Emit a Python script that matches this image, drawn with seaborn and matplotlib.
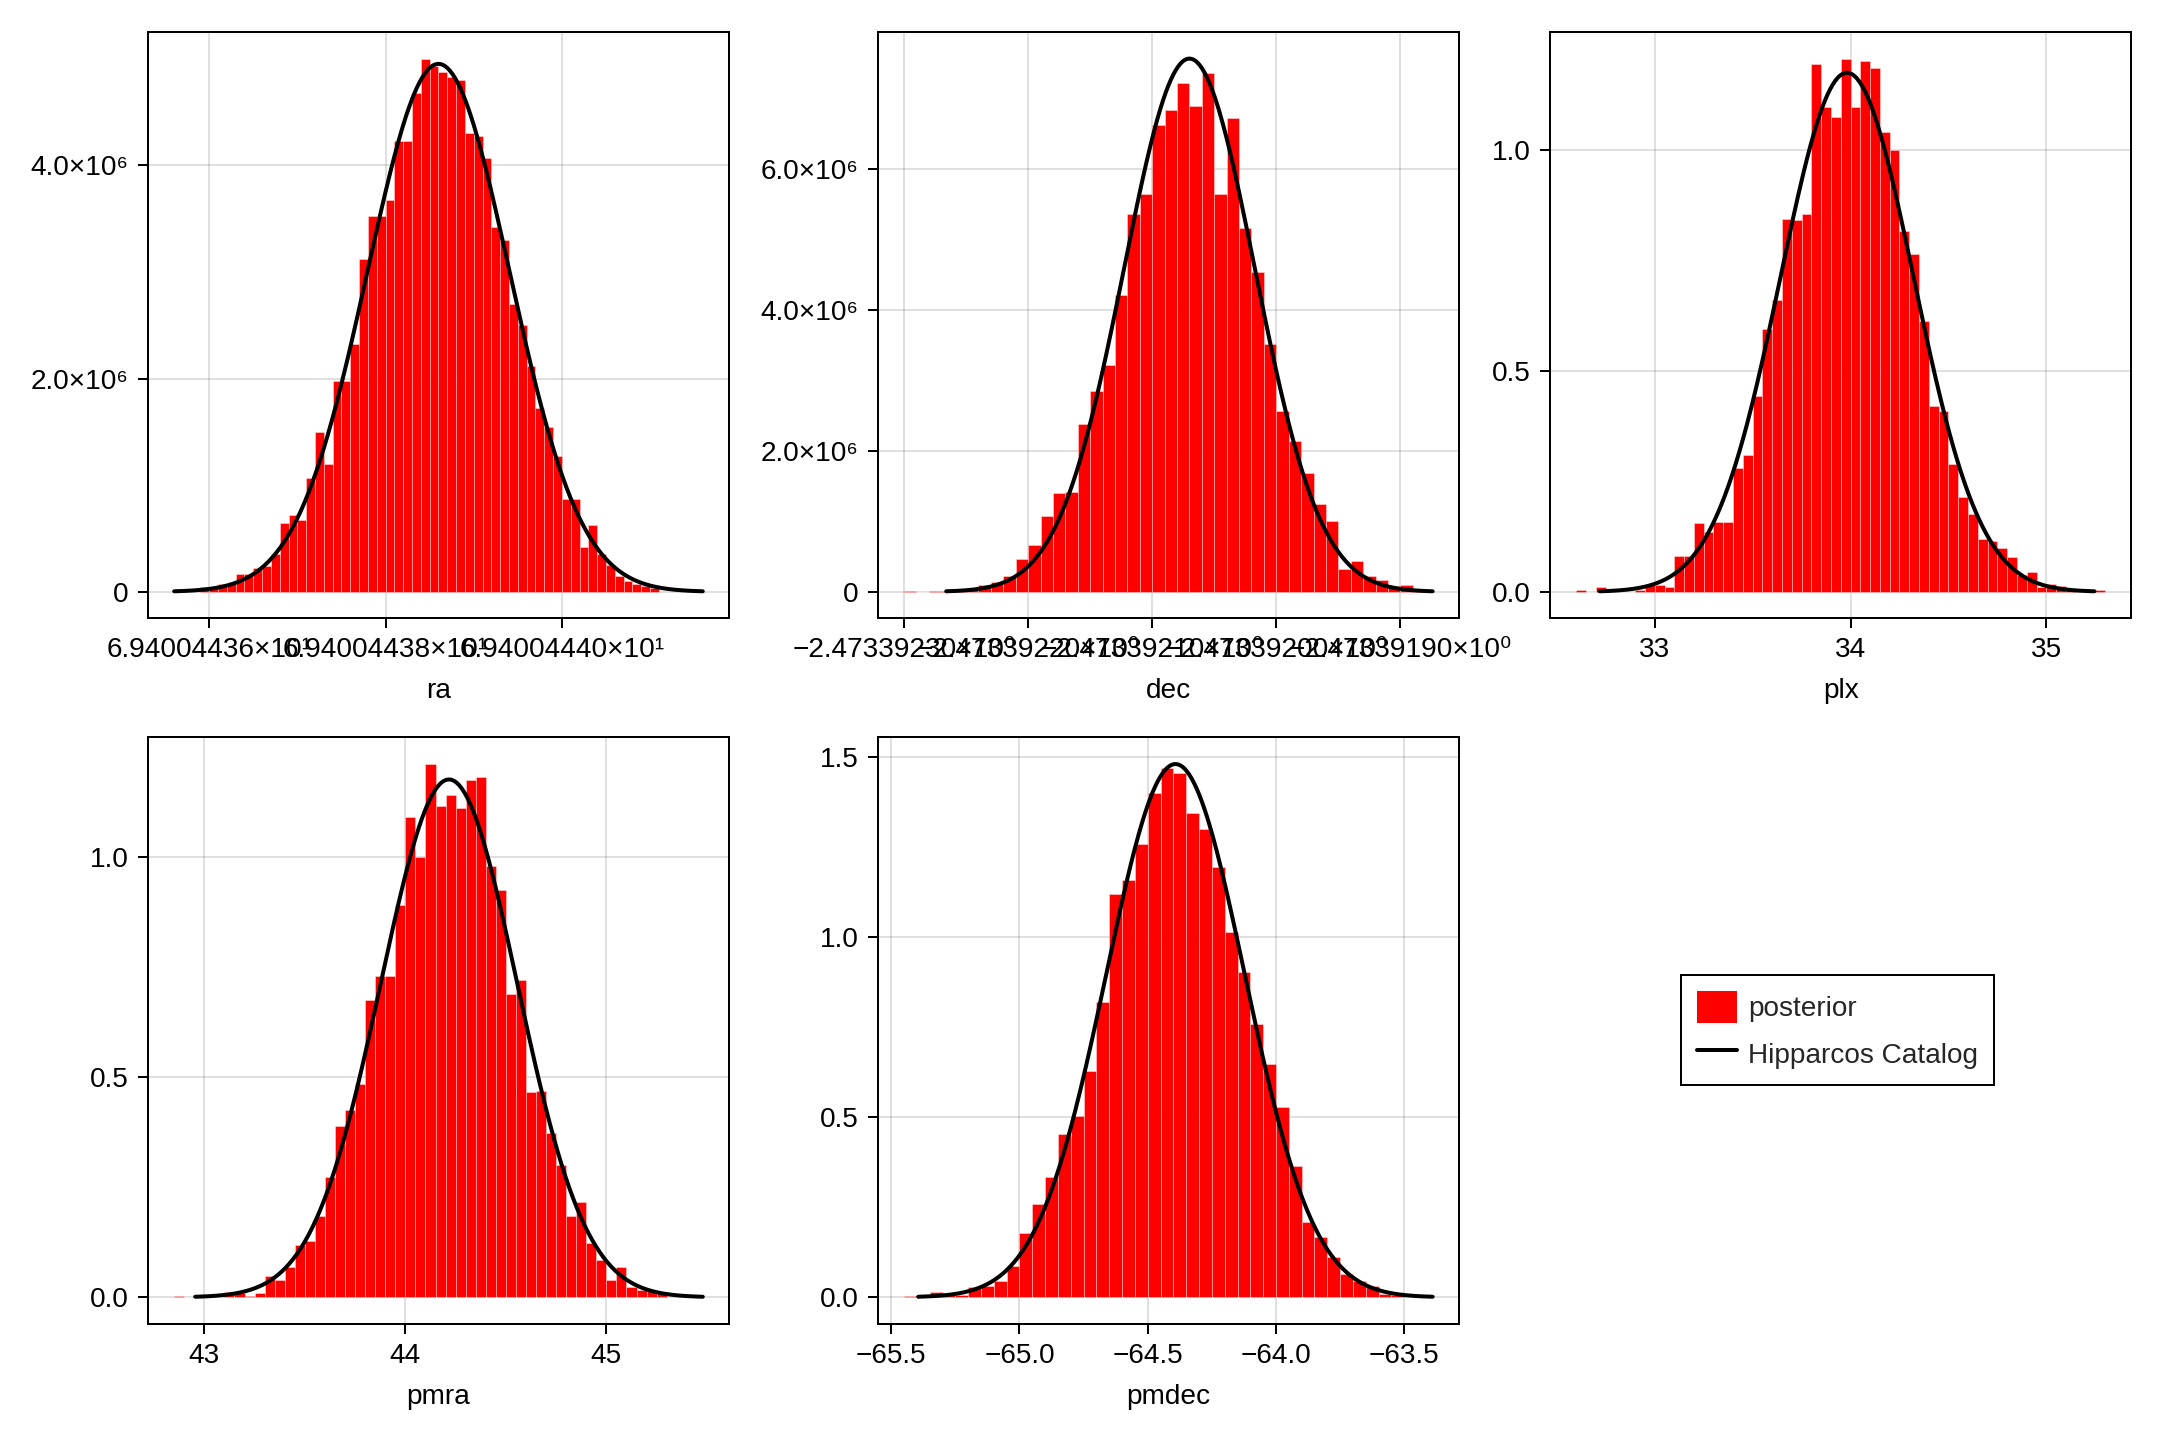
import numpy as np
import matplotlib
matplotlib.use("Agg")
import matplotlib.pyplot as plt
from matplotlib.patches import Patch
from matplotlib.lines import Line2D
from matplotlib.ticker import FixedLocator, FixedFormatter
import seaborn as sns

# posterior histograms: left edge of first bin, bin width, density of each bin
ra_start, ra_width = 69.40044359, 1e-8
ra_density = [0.043, 0.043, 0.072, 0.072, 0.170, 0.170, 0.220, 0.245, 0.353, 0.646,
              0.718, 0.671, 1.071, 1.497, 1.194, 1.973, 1.973, 2.319, 3.120, 3.524,
              3.524, 3.672, 4.224, 4.224, 4.675, 4.999, 4.927, 4.873, 4.826, 4.797,
              4.303, 4.278, 4.072, 3.423, 3.297, 2.702, 2.500, 2.121, 1.724, 1.547,
              1.273, 0.869, 0.869, 0.422, 0.624, 0.350, 0.249, 0.148, 0.097, 0.072,
              0.054, 0.032]  # x 1e6

dec_start, dec_width = -2.4733923, 1e-8
dec_density = [0.016, 0.0, 0.016, 0.010, 0.030, 0.060, 0.100, 0.140, 0.220, 0.470,
               0.670, 1.070, 1.400, 1.420, 2.380, 2.850, 3.220, 4.220, 5.370, 5.650,
               6.630, 6.840, 7.230, 6.900, 7.370, 5.650, 6.720, 5.170, 4.540, 3.520,
               2.570, 2.140, 1.690, 1.250, 1.000, 0.320, 0.440, 0.220, 0.170, 0.080,
               0.090, 0.040]  # x 1e6

plx_start, plx_width = 32.6, 0.05
plx_density = [0.004, 0.0, 0.010, 0.0, 0.0, 0.0, 0.004, 0.015, 0.015, 0.010,
               0.081, 0.081, 0.155, 0.136, 0.159, 0.159, 0.281, 0.309, 0.444, 0.595,
               0.659, 0.844, 0.840, 0.854, 1.194, 1.096, 1.074, 1.206, 1.096, 1.200,
               1.184, 1.039, 0.999, 0.815, 0.765, 0.613, 0.420, 0.409, 0.289, 0.214,
               0.175, 0.120, 0.114, 0.099, 0.079, 0.037, 0.044, 0.010, 0.018, 0.014,
               0.004, 0.0, 0.0, 0.004]

pmra_start, pmra_width = 42.85, 0.05
pmra_density = [0.003, 0.0, 0.0, 0.0, 0.0, 0.013, 0.010, 0.004, 0.009, 0.048,
                0.039, 0.069, 0.118, 0.128, 0.184, 0.273, 0.389, 0.424, 0.485, 0.675,
                0.729, 0.729, 0.890, 1.091, 1.000, 1.210, 1.115, 1.140, 1.110, 1.175,
                1.180, 0.979, 0.925, 0.689, 0.719, 0.466, 0.469, 0.373, 0.300, 0.184,
                0.217, 0.123, 0.084, 0.039, 0.068, 0.024, 0.016, 0.015, 0.011]

pmdec_start, pmdec_width = -65.45, 0.05
pmdec_density = [0.003, 0.003, 0.014, 0.006, 0.005, 0.028, 0.032, 0.044, 0.088, 0.178,
                 0.259, 0.334, 0.453, 0.504, 0.629, 0.819, 1.119, 1.159, 1.259, 1.400,
                 1.469, 1.455, 1.345, 1.300, 1.194, 1.014, 0.904, 0.759, 0.648, 0.528,
                 0.364, 0.209, 0.168, 0.113, 0.064, 0.044, 0.032, 0.009, 0.005]

# Hipparcos catalog normal distributions (mean, sigma)
ra_cat = (69.40044386, 8.06e-8)
dec_cat = (-2.47339207, 5.27e-8)
plx_cat = (33.982, 0.3398)
pmra_cat = (44.217, 0.3395)
pmdec_cat = (-64.392, 0.2696)

# ticks
ra_xticks = [69.4004436, 69.4004438, 69.4004440]
ra_xlabels = ["6.94004436×10¹", "6.94004438×10¹", "6.94004440×10¹"]
ra_yticks = [0, 2.0e6, 4.0e6]
ra_ylabels = ["0", "2.0×10⁶", "4.0×10⁶"]
dec_xticks = [-2.4733923, -2.4733922, -2.4733921, -2.4733920, -2.4733919]
dec_xlabels = ["−2.47339230×10⁰", "−2.47339220×10⁰", "−2.47339210×10⁰",
               "−2.47339200×10⁰", "−2.47339190×10⁰"]
dec_yticks = [0, 2.0e6, 4.0e6, 6.0e6]
dec_ylabels = ["0", "2.0×10⁶", "4.0×10⁶", "6.0×10⁶"]
plx_xticks = [33, 34, 35]
plx_xlabels = ["33", "34", "35"]
plx_yticks = [0.0, 0.5, 1.0]
plx_ylabels = ["0.0", "0.5", "1.0"]
pmra_xticks = [43, 44, 45]
pmra_xlabels = ["43", "44", "45"]
pmra_yticks = [0.0, 0.5, 1.0]
pmra_ylabels = ["0.0", "0.5", "1.0"]
pmdec_xticks = [-65.5, -65.0, -64.5, -64.0, -63.5]
pmdec_xlabels = ["−65.5", "−65.0", "−64.5", "−64.0", "−63.5"]
pmdec_yticks = [0.0, 0.5, 1.0, 1.5]
pmdec_ylabels = ["0.0", "0.5", "1.0", "1.5"]

sns.set_theme(style="white")
plt.rcParams['font.family'] = ['Liberation Sans', 'DejaVu Sans']

panels = [
    ("ra", ra_start, ra_width, np.array(ra_density) * 1e6, ra_cat,
     ra_xticks, ra_xlabels, ra_yticks, ra_ylabels),
    ("dec", dec_start, dec_width, np.array(dec_density) * 1e6, dec_cat,
     dec_xticks, dec_xlabels, dec_yticks, dec_ylabels),
    ("plx", plx_start, plx_width, np.array(plx_density), plx_cat,
     plx_xticks, plx_xlabels, plx_yticks, plx_ylabels),
    ("pmra", pmra_start, pmra_width, np.array(pmra_density), pmra_cat,
     pmra_xticks, pmra_xlabels, pmra_yticks, pmra_ylabels),
    ("pmdec", pmdec_start, pmdec_width, np.array(pmdec_density), pmdec_cat,
     pmdec_xticks, pmdec_xlabels, pmdec_yticks, pmdec_ylabels),
]

fig = plt.figure(figsize=(15, 10), dpi=144)
fig.patch.set_facecolor("white")

lefts = [0.0684, 0.4063, 0.7176]
bottoms = [0.5705, 0.0806]
w, h = 0.2692, 0.4073

for i, (name, start, width, dens, cat, xt, xl, yt, yl) in enumerate(panels):
    ax = fig.add_axes([lefts[i % 3], bottoms[i // 3], w, h])
    edges = start + width * np.arange(len(dens) + 1)
    centers = edges[:-1] + width / 2
    sns.histplot(x=centers, weights=dens, bins=list(edges), stat="count",
                 color="red", alpha=1, edgecolor=(1, 1, 1, 0.45),
                 linewidth=0.4, ax=ax, zorder=2)

    mu, sd = cat
    xs = np.linspace(mu - 3.719 * sd, mu + 3.719 * sd, 400)
    ys = np.exp(-0.5 * ((xs - mu) / sd) ** 2) / (sd * np.sqrt(2 * np.pi))
    sns.lineplot(x=xs, y=ys, color="black", linewidth=2, ax=ax, zorder=3)

    x0 = min(edges[0], xs[0])
    x1 = max(edges[-1], xs[-1])
    y1 = max(dens.max(), ys.max())
    ax.set_xlim(x0 - 0.05 * (x1 - x0), x1 + 0.05 * (x1 - x0))
    ax.set_ylim(-0.05 * y1, 1.05 * y1)

    ax.xaxis.set_major_locator(FixedLocator(xt))
    ax.xaxis.set_major_formatter(FixedFormatter(xl))
    ax.yaxis.set_major_locator(FixedLocator(yt))
    ax.yaxis.set_major_formatter(FixedFormatter(yl))

    ax.grid(True, color="black", alpha=0.12, linewidth=1)
    ax.set_axisbelow(True)
    for sp in ax.spines.values():
        sp.set_color("black")
        sp.set_linewidth(1)
    ax.tick_params(axis="both", which="major", direction="out", length=5,
                   width=1, color="black", labelsize=14, pad=4.5,
                   bottom=True, left=True, labelcolor="black")
    ax.set_xlabel(name, fontsize=14, color="black", labelpad=7.5)
    ax.set_ylabel("")

handles = [Patch(facecolor="red", edgecolor="none"),
           Line2D([0], [0], color="black", linewidth=2)]
leg = fig.legend(handles, ["posterior", "Hipparcos Catalog"], loc="center",
                 bbox_to_anchor=(0.8507, 0.2847), bbox_transform=fig.transFigure,
                 frameon=True, fancybox=False, edgecolor="black", framealpha=1,
                 fontsize=14, handlelength=1.43, handleheight=1.4,
                 handletextpad=0.4, labelspacing=0.5, borderpad=0.55,
                 borderaxespad=0)
leg.get_frame().set_linewidth(1)

fig.savefig("out.png", dpi=144, facecolor="white")
